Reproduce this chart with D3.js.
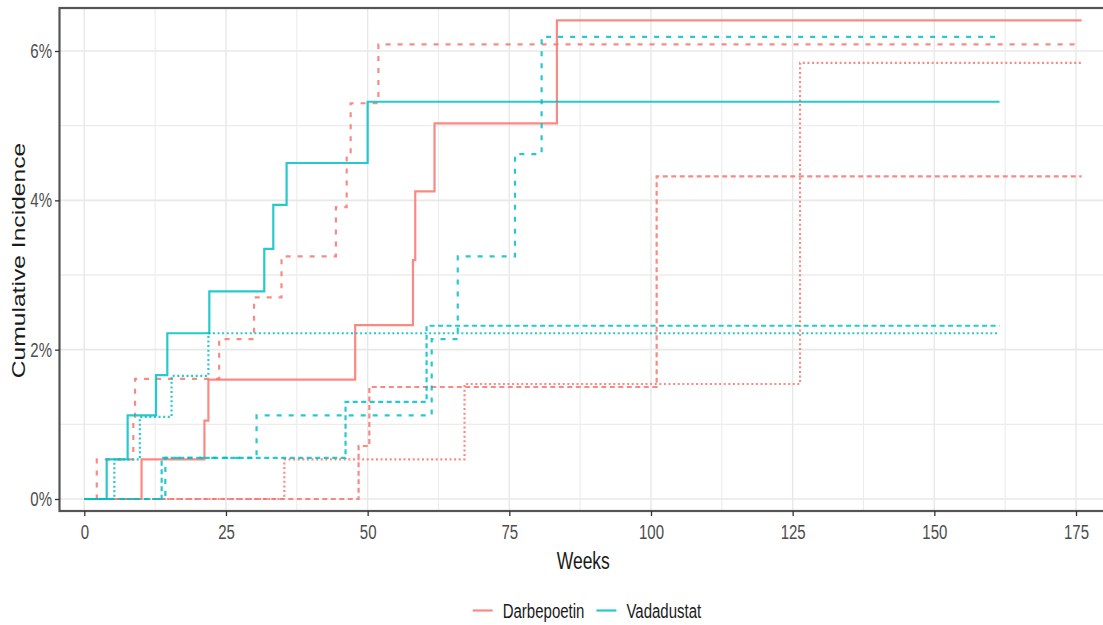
<!DOCTYPE html>
<html>
<head>
<meta charset="utf-8">
<script src="https://cdn.jsdelivr.net/npm/d3@7"></script>
<style>
    html, body { margin: 0; padding: 0; background: #fff; }
    svg { display: block; font-family: "Liberation Sans", Arial, sans-serif; }
    .tick line { stroke: #333; }
    .tick text { fill: #4d4d4d; font-size: 15px; }
</style>
</head>
<body>
<svg id="chart" width="1103" height="625"></svg>
<script>
"use strict";

// ---- data (weeks, cumulative incidence in %) ----
const darbeSolidWeeks = [0, 10.1, 21.2, 21.9, 47.8, 58.0, 58.4, 61.8, 83.4, 176];
const darbeSolidInc   = [0, 0.53, 1.05, 1.60, 2.33, 3.20, 4.12, 5.03, 6.41, 6.41];

const darbeDashWeeks = [0, 2.2, 8.65, 8.95, 23.8, 29.95, 34.8, 44.4, 46.3, 47.0, 51.9, 175.1];
const darbeDashInc   = [0, 0.53, 1.06, 1.61, 2.14, 2.70, 3.25, 3.91, 4.61, 5.30, 6.09, 6.09];

const darbeLongWeeks = [0, 48.4, 50.3, 101.0, 176];
const darbeLongInc   = [0, 0.71, 1.50, 4.32, 4.32];

const darbeDotWeeks = [0, 35.3, 67.1, 126.3, 176];
const darbeDotInc   = [0, 0.53, 1.54, 5.84, 5.84];

const vadaSolidWeeks = [0, 3.95, 7.65, 12.65, 14.65, 22.06, 31.76, 33.35, 35.7, 50.0, 161.5];
const vadaSolidInc   = [0, 0.53, 1.12, 1.66, 2.22, 2.78, 3.35, 3.94, 4.50, 5.32, 5.32];

const vadaDashWeeks = [0, 14.3, 30.4, 61.3, 65.9, 76.0, 80.7, 161.5];
const vadaDashInc   = [0, 0.55, 1.12, 2.14, 3.25, 4.62, 6.19, 6.19];

const vadaLongWeeks = [0, 13.65, 46.1, 60.4, 161.5];
const vadaLongInc   = [0, 0.55, 1.30, 2.32, 2.32];

const vadaDotWeeks = [0, 5.3, 9.8, 15.4, 21.9, 161.5];
const vadaDotInc   = [0, 0.53, 1.10, 1.65, 2.22, 2.22];

const drugs = ['Darbepoetin', 'Vadadustat'];
const xTicks = [0, 25, 50, 75, 100, 125, 150, 175];
const yTicks = [0, 2, 4, 6];

// ---- layout ----
const STRETCH = 1.37;            // the reference is squashed horizontally / stretched vertically
const PANEL_LEFT = 59.5;
const PANEL_TOP = 8;
const PANEL_BOTTOM = 511;
const PANEL_RIGHT = 1110;
const COLORS = { Darbepoetin: '#F8766D', Vadadustat: '#00BFC4' };
const DASHES = { solid: null, dashed: '5,7', longdash: '5,3.5', dotted: '2,2.6' };

const series = [
    { drug: 'Darbepoetin', type: 'solid',    weeks: darbeSolidWeeks, inc: darbeSolidInc },
    { drug: 'Darbepoetin', type: 'dashed',   weeks: darbeDashWeeks,  inc: darbeDashInc },
    { drug: 'Darbepoetin', type: 'longdash', weeks: darbeLongWeeks,  inc: darbeLongInc },
    { drug: 'Darbepoetin', type: 'dotted',   weeks: darbeDotWeeks,   inc: darbeDotInc },
    { drug: 'Vadadustat',  type: 'solid',    weeks: vadaSolidWeeks,  inc: vadaSolidInc },
    { drug: 'Vadadustat',  type: 'dashed',   weeks: vadaDashWeeks,   inc: vadaDashInc },
    { drug: 'Vadadustat',  type: 'longdash', weeks: vadaLongWeeks,   inc: vadaLongInc },
    { drug: 'Vadadustat',  type: 'dotted',   weeks: vadaDotWeeks,    inc: vadaDotInc },
];

const svg = d3.select('#chart');

const x = d3.scaleLinear().domain([0, 175]).range([84.3, 1076]);
const y = d3.scaleLinear().domain([0, 6]).range([499, 51]);

svg.append('defs').append('clipPath').attr('id', 'panel-clip')
    .append('rect')
    .attr('x', PANEL_LEFT).attr('y', PANEL_TOP)
    .attr('width', PANEL_RIGHT - PANEL_LEFT).attr('height', PANEL_BOTTOM - PANEL_TOP);

// grid lines (major + minor)
const grid = svg.append('g').attr('clip-path', 'url(#panel-clip)');
const xMinor = xTicks.map(t => t + 12.5).concat([-12.5]);
const yMinor = [1, 3, 5, 7, -1];

grid.selectAll('.x-minor').data(xMinor).join('line')
    .attr('x1', d => x(d)).attr('x2', d => x(d))
    .attr('y1', PANEL_TOP).attr('y2', PANEL_BOTTOM)
    .attr('stroke', '#ececec').attr('stroke-width', 1.1);
grid.selectAll('.y-minor').data(yMinor).join('line')
    .attr('y1', d => y(d)).attr('y2', d => y(d))
    .attr('x1', PANEL_LEFT).attr('x2', PANEL_RIGHT)
    .attr('stroke', '#ececec').attr('stroke-width', 1.3);
grid.selectAll('.x-major').data(xTicks).join('line')
    .attr('x1', d => x(d)).attr('x2', d => x(d))
    .attr('y1', PANEL_TOP).attr('y2', PANEL_BOTTOM)
    .attr('stroke', '#e8e8e8').attr('stroke-width', 1.4);
grid.selectAll('.y-major').data(yTicks).join('line')
    .attr('y1', d => y(d)).attr('y2', d => y(d))
    .attr('x1', PANEL_LEFT).attr('x2', PANEL_RIGHT)
    .attr('stroke', '#e8e8e8').attr('stroke-width', 1.6);

// step curves
const line = d3.line()
    .x(d => x(d[0]))
    .y(d => y(d[1]))
    .curve(d3.curveStepAfter);

svg.append('g').attr('clip-path', 'url(#panel-clip)')
    .selectAll('path').data(series).join('path')
    .attr('d', s => line(s.weeks.map((w, i) => [w, s.inc[i]])))
    .attr('fill', 'none')
    .attr('stroke', s => COLORS[s.drug])
    .attr('stroke-opacity', 0.85)
    .attr('stroke-width', 2.2)
    .attr('stroke-dasharray', s => DASHES[s.type]);

// panel border
svg.append('rect')
    .attr('x', PANEL_LEFT).attr('y', PANEL_TOP)
    .attr('width', PANEL_RIGHT - PANEL_LEFT).attr('height', PANEL_BOTTOM - PANEL_TOP)
    .attr('fill', 'none').attr('stroke', '#555').attr('stroke-width', 2.2);

// axes
const xAxis = svg.append('g')
    .attr('transform', `translate(0, ${PANEL_BOTTOM})`)
    .call(d3.axisBottom(x).tickValues(xTicks).tickSize(5).tickSizeOuter(0));
xAxis.select('.domain').remove();
xAxis.selectAll('.tick line').attr('stroke', '#444').attr('stroke-width', 1.3);
xAxis.selectAll('.tick text')
    .attr('y', 10).attr('dy', '0.71em')
    .attr('transform', `scale(1, ${STRETCH})`);

const yAxis = svg.append('g')
    .attr('transform', `translate(${PANEL_LEFT}, 0)`)
    .call(d3.axisLeft(y).tickValues(yTicks).tickSize(4.5).tickPadding(3).tickFormat(d => d + '%'));
yAxis.select('.domain').remove();
yAxis.selectAll('.tick line').attr('stroke', '#444').attr('stroke-width', 1.3);
yAxis.selectAll('.tick text').attr('transform', `scale(1, ${STRETCH})`);

// axis titles
svg.append('text')
    .attr('transform', `translate(583.3, 569) scale(1, ${STRETCH})`)
    .attr('text-anchor', 'middle')
    .attr('font-size', 17.5)
    .attr('fill', '#1a1a1a')
    .text('Weeks');

svg.append('text')
    .attr('transform', `translate(25, 260.5) rotate(-90) scale(${STRETCH}, 1)`)
    .attr('text-anchor', 'middle')
    .attr('font-size', 18)
    .attr('fill', '#1a1a1a')
    .text('Cumulative Incidence');

// legend (colour only)
const legend = svg.append('g').attr('transform', 'translate(472.7, 610.5)');
let offset = 0;
for (const drug of drugs) {
    const item = legend.append('g').attr('transform', `translate(${offset}, 0)`);
    item.append('line')
        .attr('x1', 0).attr('x2', 20).attr('y1', 0).attr('y2', 0)
        .attr('stroke', COLORS[drug]).attr('stroke-opacity', 0.85).attr('stroke-width', 2.2);
    const label = item.append('text')
        .attr('transform', `translate(30, 0) scale(1, ${STRETCH})`)
        .attr('dy', '0.35em')
        .attr('font-size', 15)
        .attr('fill', '#1a1a1a')
        .text(drug);
    offset += 30 + label.node().getComputedTextLength() + 12;
}
</script>
</body>
</html>
